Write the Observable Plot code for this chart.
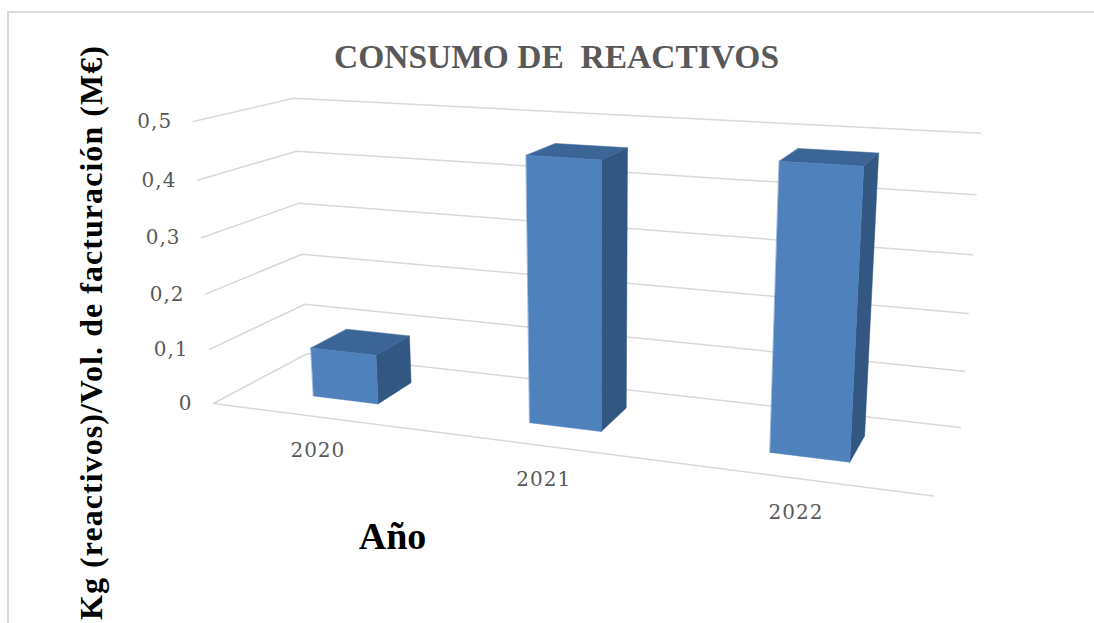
<!DOCTYPE html>
<html>
<head>
<meta charset="utf-8">
<script src="https://cdn.jsdelivr.net/npm/d3@7"></script>
<script src="https://cdn.jsdelivr.net/npm/@observablehq/plot@0.6"></script>
<style>
  html, body { margin: 0; padding: 0; background: #fff; overflow: hidden; }
  #chart { position: relative; width: 1094px; height: 623px; }
  #chart::before { content: ""; position: absolute; left: 7px; top: 11px; right: 0; bottom: 0;
    border-left: 2.5px solid #d9d9d9; border-top: 2px solid #d9d9d9; }
  svg { position: absolute; left: 0; top: 0; background: transparent !important; }
  .pre text { white-space: pre; }
  .spaced text { letter-spacing: 1.05px; }
  .ticks text { letter-spacing: 1px; }
</style>
</head>
<body>
<div id="chart"></div>
<script>
const years = ["2020", "2021", "2022"];
const values = [0.09, 0.46, 0.475];
const valueTicks = [0, 0.1, 0.2, 0.3, 0.4, 0.5];
const tickLabels = ["0", "0,1", "0,2", "0,3", "0,4", "0,5"];
const chartTitle = "CONSUMO DE  REACTIVOS";
const yTitle = "Kg (reactivos)/Vol. de facturación (M€)";
const xTitle = "Año";

// Perspective camera of the 3-D chart box: (category, value, depth, 1) -> homogeneous screen.
const camera = [
  [577.78, -30, 127.43, 213],
  [16.97, -288, -11.56, 403],
  [-0.15243, -0.05, 0.1089, 1]
];
const valueMax = 0.5;
const barWidth = 0.103, barDepth = [0.3, 0.7];
const project = ({u, value, d}) => {
  const p = [u, value / valueMax, d, 1];
  const [X, Y, W] = camera.map(r => d3.sum(r, (c, i) => c * p[i]));
  return [X / W, Y / W];
};
const px = r => project(r)[0], py = r => project(r)[1];

const grid = valueTicks.flatMap(value => [
  {value, u: 0, d: 0}, {value, u: 0, d: 1}, {value, u: 1, d: 1}
]);
const floorFront = [{value: 0, u: 0, d: 0}, {value: 0, u: 1, d: 0}];

const faceRows = (face, corners) => years.flatMap((year, i) => {
  const c = (i + 0.5) / years.length;
  return corners.map(([s, t, k]) => ({
    year, face,
    u: c + s * barWidth / 2,
    value: t * values[i],
    d: barDepth[k]
  }));
});
const front = faceRows("front", [[-1, 0, 0], [1, 0, 0], [1, 1, 0], [-1, 1, 0]]);
const side  = faceRows("side",  [[1, 0, 0], [1, 0, 1], [1, 1, 1], [1, 1, 0]]);
const top_  = faceRows("top",   [[-1, 1, 0], [1, 1, 0], [1, 1, 1], [-1, 1, 1]]);

const face = (rows, fill) => Plot.line(rows, {
  x: px, y: py, z: "year", fill, stroke: fill, strokeWidth: 0.5, curve: "linear-closed"
});
const serif = "Liberation Serif";
const tickRows = valueTicks.map((value, i) => ({value, u: 0, d: 0, label: tickLabels[i]}));
const yearRows = years.map((label, i) => ({value: 0, u: (i + 0.5) / years.length, d: 0, label}));

const plot = Plot.plot({
  width: 1094, height: 623,
  marginTop: 0, marginRight: 0, marginBottom: 0, marginLeft: 0,
  x: {type: "identity", axis: null},
  y: {type: "identity", axis: null},
  style: {background: "transparent"},
  marks: [
    Plot.line(grid, {x: px, y: py, z: "value", stroke: "#d9d9d9", strokeWidth: 1.5}),
    Plot.line(floorFront, {x: px, y: py, stroke: "#d9d9d9", strokeWidth: 1.5}),
    face(side, "#335783"),
    face(top_, "#3b6596"),
    face(front, "#4f81bd"),
    Plot.text(tickRows, {x: px, y: py, text: "label", textAnchor: "end", dx: -21, className: "ticks", fontFamily: "DejaVu Serif", fontSize: 20, fill: "#595959"}),
    Plot.text(yearRows, {x: px, y: py, text: "label", dy: 34, className: "ticks", fontFamily: "DejaVu Serif", fontSize: 20, fill: "#595959"}),
    Plot.text([chartTitle], {frameAnchor: "top-left", dx: 556, dy: 57, text: d => d, className: "pre", lineAnchor: "middle", textAnchor: "middle", fontFamily: serif, fontWeight: "bold", fontSize: 33.5, fill: "#595959"}),
    Plot.text([xTitle], {frameAnchor: "top-left", dx: 392, dy: 536, text: d => d, lineAnchor: "middle", textAnchor: "middle", fontFamily: serif, fontWeight: "bold", fontSize: 38, fill: "#000"}),
    Plot.text([yTitle], {frameAnchor: "top-left", dx: 91, dy: 332, text: d => d, rotate: -90, className: "spaced", lineAnchor: "middle", textAnchor: "middle", fontFamily: serif, fontWeight: "bold", fontSize: 32, fill: "#000"})
  ]
});
document.getElementById("chart").appendChild(plot);
</script>
</body>
</html>
